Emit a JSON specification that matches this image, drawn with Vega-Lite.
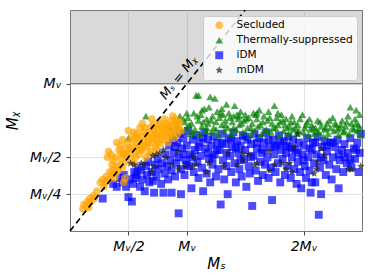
{
  "$schema": "https://vega.github.io/schema/vega-lite/v6.json",
  "width": 292,
  "height": 221,
  "autosize": {"type": "none"},
  "padding": {"left": 70, "top": 10, "right": 11, "bottom": 49},
  "background": "white",
  "config": {
    "font": "DejaVu Sans",
    "view": {"stroke": "#777", "strokeWidth": 1},
    "axis": {"grid": true, "gridColor": "#e3e3e3", "domain": false, "tickColor": "#444", "tickSize": 4, "labelFontSize": 14, "labelFont": "DejaVu Sans", "labelFontStyle": "italic", "labelColor": "#000", "titleFontSize": 15, "titleFont": "DejaVu Sans", "titleFontWeight": "normal", "titleFontStyle": "italic", "titleColor": "#000"},
    "legend": {"orient": "none", "legendX": 133, "legendY": 6, "fillColor": "rgba(255,255,255,0.8)", "strokeColor": "#cccccc", "cornerRadius": 3, "padding": 4, "symbolOffset": 7, "labelFontSize": 10.5, "labelFont": "DejaVu Sans", "labelColor": "#000", "rowPadding": 4, "labelOffset": 12, "symbolStrokeWidth": 0}
  },
  "datasets": {
    "pts": [
      {"type":"iDM","ms":0.28,"mchi":0.22},{"type":"iDM","ms":0.37,"mchi":0.32},{"type":"iDM","ms":0.4,"mchi":0.3},{"type":"iDM","ms":0.43,"mchi":0.36},{"type":"iDM","ms":0.45,"mchi":0.33},{"type":"iDM","ms":0.46,"mchi":0.38},{"type":"iDM","ms":0.48,"mchi":0.3},{"type":"iDM","ms":0.5,"mchi":0.23},{"type":"iDM","ms":0.51,"mchi":0.35},{"type":"iDM","ms":0.53,"mchi":0.2},{"type":"iDM","ms":0.54,"mchi":0.32},{"type":"iDM","ms":0.55,"mchi":0.4},{"type":"iDM","ms":0.56,"mchi":0.36},{"type":"iDM","ms":0.57,"mchi":0.38},{"type":"iDM","ms":0.58,"mchi":0.43},{"type":"iDM","ms":0.6,"mchi":0.3},{"type":"iDM","ms":0.61,"mchi":0.41},{"type":"iDM","ms":0.62,"mchi":0.35},{"type":"iDM","ms":0.64,"mchi":0.27},{"type":"iDM","ms":0.65,"mchi":0.44},{"type":"iDM","ms":0.66,"mchi":0.38},{"type":"iDM","ms":0.67,"mchi":0.47},{"type":"iDM","ms":0.68,"mchi":0.33},{"type":"iDM","ms":0.7,"mchi":0.4},{"type":"iDM","ms":0.71,"mchi":0.34},{"type":"iDM","ms":0.72,"mchi":0.26},{"type":"iDM","ms":0.73,"mchi":0.45},{"type":"iDM","ms":0.74,"mchi":0.37},{"type":"iDM","ms":0.75,"mchi":0.49},{"type":"iDM","ms":0.76,"mchi":0.42},{"type":"iDM","ms":0.78,"mchi":0.32},{"type":"iDM","ms":0.79,"mchi":0.46},{"type":"iDM","ms":0.8,"mchi":0.26},{"type":"iDM","ms":0.81,"mchi":0.39},{"type":"iDM","ms":0.82,"mchi":0.52},{"type":"iDM","ms":0.83,"mchi":0.44},{"type":"iDM","ms":0.84,"mchi":0.35},{"type":"iDM","ms":0.85,"mchi":0.58},{"type":"iDM","ms":0.86,"mchi":0.48},{"type":"iDM","ms":0.87,"mchi":0.26},{"type":"iDM","ms":0.87,"mchi":0.41},{"type":"iDM","ms":0.88,"mchi":0.62},{"type":"iDM","ms":0.89,"mchi":0.53},{"type":"iDM","ms":0.9,"mchi":0.37},{"type":"iDM","ms":0.91,"mchi":0.46},{"type":"iDM","ms":0.92,"mchi":0.6},{"type":"iDM","ms":0.93,"mchi":0.12},{"type":"iDM","ms":0.93,"mchi":0.5},{"type":"iDM","ms":0.94,"mchi":0.66},{"type":"iDM","ms":0.95,"mchi":0.25},{"type":"iDM","ms":0.95,"mchi":0.42},{"type":"iDM","ms":0.96,"mchi":0.56},{"type":"iDM","ms":0.97,"mchi":0.63},{"type":"iDM","ms":0.98,"mchi":0.38},{"type":"iDM","ms":0.99,"mchi":0.48},{"type":"iDM","ms":1.0,"mchi":0.58},{"type":"iDM","ms":1.01,"mchi":0.68},{"type":"iDM","ms":1.02,"mchi":0.44},{"type":"iDM","ms":1.03,"mchi":0.52},{"type":"iDM","ms":1.04,"mchi":0.29},{"type":"iDM","ms":1.05,"mchi":0.62},{"type":"iDM","ms":1.06,"mchi":0.4},{"type":"iDM","ms":1.07,"mchi":0.55},{"type":"iDM","ms":1.08,"mchi":0.65},{"type":"iDM","ms":1.09,"mchi":0.47},{"type":"iDM","ms":1.1,"mchi":0.36},{"type":"iDM","ms":1.11,"mchi":0.6},{"type":"iDM","ms":1.12,"mchi":0.51},{"type":"iDM","ms":1.13,"mchi":0.43},{"type":"iDM","ms":1.14,"mchi":0.27},{"type":"iDM","ms":1.15,"mchi":0.67},{"type":"iDM","ms":1.16,"mchi":0.56},{"type":"iDM","ms":1.17,"mchi":0.39},{"type":"iDM","ms":1.18,"mchi":0.62},{"type":"iDM","ms":1.19,"mchi":0.49},{"type":"iDM","ms":1.2,"mchi":0.33},{"type":"iDM","ms":1.21,"mchi":0.58},{"type":"iDM","ms":1.22,"mchi":0.45},{"type":"iDM","ms":1.23,"mchi":0.64},{"type":"iDM","ms":1.24,"mchi":0.52},{"type":"iDM","ms":1.25,"mchi":0.37},{"type":"iDM","ms":1.26,"mchi":0.6},{"type":"iDM","ms":1.27,"mchi":0.42},{"type":"iDM","ms":1.28,"mchi":0.55},{"type":"iDM","ms":1.29,"mchi":0.18},{"type":"iDM","ms":1.3,"mchi":0.66},{"type":"iDM","ms":1.31,"mchi":0.48},{"type":"iDM","ms":1.32,"mchi":0.35},{"type":"iDM","ms":1.33,"mchi":0.59},{"type":"iDM","ms":1.34,"mchi":0.44},{"type":"iDM","ms":1.35,"mchi":0.25},{"type":"iDM","ms":1.36,"mchi":0.63},{"type":"iDM","ms":1.37,"mchi":0.51},{"type":"iDM","ms":1.38,"mchi":0.4},{"type":"iDM","ms":1.39,"mchi":0.57},{"type":"iDM","ms":1.4,"mchi":0.67},{"type":"iDM","ms":1.41,"mchi":0.46},{"type":"iDM","ms":1.42,"mchi":0.33},{"type":"iDM","ms":1.43,"mchi":0.61},{"type":"iDM","ms":1.44,"mchi":0.53},{"type":"iDM","ms":1.45,"mchi":0.42},{"type":"iDM","ms":1.46,"mchi":0.58},{"type":"iDM","ms":1.47,"mchi":0.37},{"type":"iDM","ms":1.48,"mchi":0.65},{"type":"iDM","ms":1.49,"mchi":0.49},{"type":"iDM","ms":1.5,"mchi":0.55},{"type":"iDM","ms":1.51,"mchi":0.3},{"type":"iDM","ms":1.52,"mchi":0.62},{"type":"iDM","ms":1.53,"mchi":0.44},{"type":"iDM","ms":1.54,"mchi":0.39},{"type":"iDM","ms":1.55,"mchi":0.59},{"type":"iDM","ms":1.56,"mchi":0.17},{"type":"iDM","ms":1.57,"mchi":0.51},{"type":"iDM","ms":1.58,"mchi":0.66},{"type":"iDM","ms":1.59,"mchi":0.41},{"type":"iDM","ms":1.6,"mchi":0.56},{"type":"iDM","ms":1.61,"mchi":0.34},{"type":"iDM","ms":1.62,"mchi":0.63},{"type":"iDM","ms":1.63,"mchi":0.47},{"type":"iDM","ms":1.64,"mchi":0.53},{"type":"iDM","ms":1.65,"mchi":0.38},{"type":"iDM","ms":1.66,"mchi":0.6},{"type":"iDM","ms":1.67,"mchi":0.45},{"type":"iDM","ms":1.68,"mchi":0.67},{"type":"iDM","ms":1.69,"mchi":0.5},{"type":"iDM","ms":1.7,"mchi":0.36},{"type":"iDM","ms":1.71,"mchi":0.57},{"type":"iDM","ms":1.72,"mchi":0.43},{"type":"iDM","ms":1.73,"mchi":0.21},{"type":"iDM","ms":1.74,"mchi":0.62},{"type":"iDM","ms":1.75,"mchi":0.52},{"type":"iDM","ms":1.76,"mchi":0.4},{"type":"iDM","ms":1.77,"mchi":0.58},{"type":"iDM","ms":1.78,"mchi":0.46},{"type":"iDM","ms":1.79,"mchi":0.65},{"type":"iDM","ms":1.8,"mchi":0.33},{"type":"iDM","ms":1.81,"mchi":0.55},{"type":"iDM","ms":1.82,"mchi":0.49},{"type":"iDM","ms":1.83,"mchi":0.61},{"type":"iDM","ms":1.84,"mchi":0.38},{"type":"iDM","ms":1.85,"mchi":0.53},{"type":"iDM","ms":1.86,"mchi":0.44},{"type":"iDM","ms":1.87,"mchi":0.64},{"type":"iDM","ms":1.88,"mchi":0.57},{"type":"iDM","ms":1.89,"mchi":0.36},{"type":"iDM","ms":1.9,"mchi":0.5},{"type":"iDM","ms":1.91,"mchi":0.62},{"type":"iDM","ms":1.92,"mchi":0.42},{"type":"iDM","ms":1.93,"mchi":0.55},{"type":"iDM","ms":1.94,"mchi":0.32},{"type":"iDM","ms":1.95,"mchi":0.47},{"type":"iDM","ms":1.96,"mchi":0.6},{"type":"iDM","ms":1.97,"mchi":0.4},{"type":"iDM","ms":1.98,"mchi":0.29},{"type":"iDM","ms":1.99,"mchi":0.52},{"type":"iDM","ms":2.0,"mchi":0.58},{"type":"iDM","ms":2.01,"mchi":0.44},{"type":"iDM","ms":2.02,"mchi":0.36},{"type":"iDM","ms":2.03,"mchi":0.63},{"type":"iDM","ms":2.04,"mchi":0.5},{"type":"iDM","ms":2.05,"mchi":0.41},{"type":"iDM","ms":2.06,"mchi":0.26},{"type":"iDM","ms":2.07,"mchi":0.55},{"type":"iDM","ms":2.07,"mchi":0.33},{"type":"iDM","ms":2.08,"mchi":0.6},{"type":"iDM","ms":2.09,"mchi":0.46},{"type":"iDM","ms":2.1,"mchi":0.33},{"type":"iDM","ms":2.11,"mchi":0.52},{"type":"iDM","ms":2.12,"mchi":0.64},{"type":"iDM","ms":2.13,"mchi":0.11},{"type":"iDM","ms":2.14,"mchi":0.43},{"type":"iDM","ms":2.15,"mchi":0.25},{"type":"iDM","ms":2.16,"mchi":0.57},{"type":"iDM","ms":2.17,"mchi":0.48},{"type":"iDM","ms":2.18,"mchi":0.61},{"type":"iDM","ms":2.19,"mchi":0.38},{"type":"iDM","ms":2.2,"mchi":0.54},{"type":"iDM","ms":2.22,"mchi":0.45},{"type":"iDM","ms":2.23,"mchi":0.6},{"type":"iDM","ms":2.24,"mchi":0.35},{"type":"iDM","ms":2.25,"mchi":0.5},{"type":"iDM","ms":2.27,"mchi":0.57},{"type":"iDM","ms":2.28,"mchi":0.42},{"type":"iDM","ms":2.29,"mchi":0.62},{"type":"iDM","ms":2.3,"mchi":0.29},{"type":"iDM","ms":2.31,"mchi":0.48},{"type":"iDM","ms":2.33,"mchi":0.55},{"type":"iDM","ms":2.34,"mchi":0.4},{"type":"iDM","ms":2.35,"mchi":0.59},{"type":"iDM","ms":2.37,"mchi":0.46},{"type":"iDM","ms":2.38,"mchi":0.53},{"type":"iDM","ms":2.4,"mchi":0.63},{"type":"iDM","ms":2.41,"mchi":0.43},{"type":"iDM","ms":2.43,"mchi":0.56},{"type":"iDM","ms":2.44,"mchi":0.49},{"type":"iDM","ms":2.46,"mchi":0.6},{"type":"iDM","ms":2.47,"mchi":0.4},{"type":"iDM","ms":2.48,"mchi":0.53},{"type":"iDM","ms":2.49,"mchi":0.66},{"type":"iDM","ms":0.9,"mchi":0.57},{"type":"iDM","ms":0.97,"mchi":0.52},{"type":"iDM","ms":1.0,"mchi":0.45},{"type":"iDM","ms":1.05,"mchi":0.5},{"type":"iDM","ms":1.1,"mchi":0.57},{"type":"iDM","ms":1.14,"mchi":0.63},{"type":"iDM","ms":1.18,"mchi":0.53},{"type":"iDM","ms":1.22,"mchi":0.5},{"type":"iDM","ms":1.26,"mchi":0.55},{"type":"iDM","ms":1.3,"mchi":0.6},{"type":"iDM","ms":1.34,"mchi":0.53},{"type":"iDM","ms":1.38,"mchi":0.62},{"type":"iDM","ms":1.42,"mchi":0.56},{"type":"iDM","ms":1.46,"mchi":0.48},{"type":"iDM","ms":1.5,"mchi":0.64},{"type":"iDM","ms":1.55,"mchi":0.5},{"type":"iDM","ms":1.6,"mchi":0.6},{"type":"iDM","ms":1.65,"mchi":0.55},{"type":"iDM","ms":1.7,"mchi":0.62},{"type":"iDM","ms":1.75,"mchi":0.57},{"type":"iDM","ms":1.8,"mchi":0.6},{"type":"iDM","ms":1.85,"mchi":0.58},{"type":"iDM","ms":1.9,"mchi":0.56},{"type":"iDM","ms":1.95,"mchi":0.53},{"type":"iDM","ms":2.0,"mchi":0.48},{"type":"iDM","ms":2.05,"mchi":0.56},{"type":"iDM","ms":2.1,"mchi":0.6},{"type":"iDM","ms":2.15,"mchi":0.5},{"type":"iDM","ms":2.2,"mchi":0.58},{"type":"iDM","ms":2.25,"mchi":0.6},{"type":"iDM","ms":2.3,"mchi":0.52},{"type":"iDM","ms":2.35,"mchi":0.5},{"type":"iDM","ms":2.4,"mchi":0.48},{"type":"iDM","ms":2.45,"mchi":0.55},
      {"type":"Thermally-suppressed","ms":0.5,"mchi":0.63},{"type":"Thermally-suppressed","ms":0.65,"mchi":0.78},{"type":"Thermally-suppressed","ms":0.86,"mchi":0.7},{"type":"Thermally-suppressed","ms":0.88,"mchi":0.66},{"type":"Thermally-suppressed","ms":0.9,"mchi":0.75},{"type":"Thermally-suppressed","ms":0.92,"mchi":0.72},{"type":"Thermally-suppressed","ms":0.94,"mchi":0.78},{"type":"Thermally-suppressed","ms":0.96,"mchi":0.68},{"type":"Thermally-suppressed","ms":0.98,"mchi":0.74},{"type":"Thermally-suppressed","ms":1.0,"mchi":0.7},{"type":"Thermally-suppressed","ms":1.01,"mchi":0.77},{"type":"Thermally-suppressed","ms":1.03,"mchi":0.66},{"type":"Thermally-suppressed","ms":1.04,"mchi":0.73},{"type":"Thermally-suppressed","ms":1.06,"mchi":0.8},{"type":"Thermally-suppressed","ms":1.07,"mchi":0.69},{"type":"Thermally-suppressed","ms":1.08,"mchi":0.92},{"type":"Thermally-suppressed","ms":1.1,"mchi":0.92},{"type":"Thermally-suppressed","ms":1.1,"mchi":0.75},{"type":"Thermally-suppressed","ms":1.11,"mchi":0.66},{"type":"Thermally-suppressed","ms":1.12,"mchi":0.79},{"type":"Thermally-suppressed","ms":1.13,"mchi":0.71},{"type":"Thermally-suppressed","ms":1.15,"mchi":0.83},{"type":"Thermally-suppressed","ms":1.16,"mchi":0.68},{"type":"Thermally-suppressed","ms":1.17,"mchi":0.76},{"type":"Thermally-suppressed","ms":1.18,"mchi":0.73},{"type":"Thermally-suppressed","ms":1.19,"mchi":0.84},{"type":"Thermally-suppressed","ms":1.2,"mchi":0.91},{"type":"Thermally-suppressed","ms":1.21,"mchi":0.67},{"type":"Thermally-suppressed","ms":1.22,"mchi":0.78},{"type":"Thermally-suppressed","ms":1.23,"mchi":0.7},{"type":"Thermally-suppressed","ms":1.24,"mchi":0.9},{"type":"Thermally-suppressed","ms":1.25,"mchi":0.74},{"type":"Thermally-suppressed","ms":1.26,"mchi":0.81},{"type":"Thermally-suppressed","ms":1.27,"mchi":0.65},{"type":"Thermally-suppressed","ms":1.28,"mchi":0.77},{"type":"Thermally-suppressed","ms":1.3,"mchi":0.72},{"type":"Thermally-suppressed","ms":1.31,"mchi":0.79},{"type":"Thermally-suppressed","ms":1.32,"mchi":0.68},{"type":"Thermally-suppressed","ms":1.33,"mchi":0.75},{"type":"Thermally-suppressed","ms":1.34,"mchi":0.86},{"type":"Thermally-suppressed","ms":1.35,"mchi":0.7},{"type":"Thermally-suppressed","ms":1.36,"mchi":0.8},{"type":"Thermally-suppressed","ms":1.38,"mchi":0.66},{"type":"Thermally-suppressed","ms":1.39,"mchi":0.74},{"type":"Thermally-suppressed","ms":1.4,"mchi":0.78},{"type":"Thermally-suppressed","ms":1.41,"mchi":0.85},{"type":"Thermally-suppressed","ms":1.42,"mchi":0.69},{"type":"Thermally-suppressed","ms":1.44,"mchi":0.76},{"type":"Thermally-suppressed","ms":1.45,"mchi":0.72},{"type":"Thermally-suppressed","ms":1.46,"mchi":0.81},{"type":"Thermally-suppressed","ms":1.48,"mchi":0.67},{"type":"Thermally-suppressed","ms":1.49,"mchi":0.75},{"type":"Thermally-suppressed","ms":1.5,"mchi":0.79},{"type":"Thermally-suppressed","ms":1.52,"mchi":0.7},{"type":"Thermally-suppressed","ms":1.53,"mchi":0.77},{"type":"Thermally-suppressed","ms":1.54,"mchi":0.65},{"type":"Thermally-suppressed","ms":1.56,"mchi":0.73},{"type":"Thermally-suppressed","ms":1.57,"mchi":0.8},{"type":"Thermally-suppressed","ms":1.58,"mchi":0.68},{"type":"Thermally-suppressed","ms":1.6,"mchi":0.76},{"type":"Thermally-suppressed","ms":1.61,"mchi":0.71},{"type":"Thermally-suppressed","ms":1.62,"mchi":0.82},{"type":"Thermally-suppressed","ms":1.64,"mchi":0.66},{"type":"Thermally-suppressed","ms":1.65,"mchi":0.74},{"type":"Thermally-suppressed","ms":1.66,"mchi":0.78},{"type":"Thermally-suppressed","ms":1.68,"mchi":0.69},{"type":"Thermally-suppressed","ms":1.69,"mchi":0.75},{"type":"Thermally-suppressed","ms":1.7,"mchi":0.81},{"type":"Thermally-suppressed","ms":1.72,"mchi":0.67},{"type":"Thermally-suppressed","ms":1.73,"mchi":0.73},{"type":"Thermally-suppressed","ms":1.75,"mchi":0.85},{"type":"Thermally-suppressed","ms":1.76,"mchi":0.7},{"type":"Thermally-suppressed","ms":1.77,"mchi":0.77},{"type":"Thermally-suppressed","ms":1.79,"mchi":0.65},{"type":"Thermally-suppressed","ms":1.8,"mchi":0.74},{"type":"Thermally-suppressed","ms":1.81,"mchi":0.79},{"type":"Thermally-suppressed","ms":1.83,"mchi":0.68},{"type":"Thermally-suppressed","ms":1.84,"mchi":0.72},{"type":"Thermally-suppressed","ms":1.85,"mchi":0.76},{"type":"Thermally-suppressed","ms":1.87,"mchi":0.66},{"type":"Thermally-suppressed","ms":1.88,"mchi":0.71},{"type":"Thermally-suppressed","ms":1.9,"mchi":0.78},{"type":"Thermally-suppressed","ms":1.91,"mchi":0.69},{"type":"Thermally-suppressed","ms":1.92,"mchi":0.74},{"type":"Thermally-suppressed","ms":1.94,"mchi":0.66},{"type":"Thermally-suppressed","ms":1.95,"mchi":0.72},{"type":"Thermally-suppressed","ms":1.97,"mchi":0.76},{"type":"Thermally-suppressed","ms":1.99,"mchi":0.79},{"type":"Thermally-suppressed","ms":2.0,"mchi":0.67},{"type":"Thermally-suppressed","ms":2.01,"mchi":0.7},{"type":"Thermally-suppressed","ms":2.03,"mchi":0.74},{"type":"Thermally-suppressed","ms":2.04,"mchi":0.65},{"type":"Thermally-suppressed","ms":2.06,"mchi":0.69},{"type":"Thermally-suppressed","ms":2.07,"mchi":0.72},{"type":"Thermally-suppressed","ms":2.09,"mchi":0.66},{"type":"Thermally-suppressed","ms":2.1,"mchi":0.7},{"type":"Thermally-suppressed","ms":2.12,"mchi":0.75},{"type":"Thermally-suppressed","ms":2.13,"mchi":0.67},{"type":"Thermally-suppressed","ms":2.15,"mchi":0.71},{"type":"Thermally-suppressed","ms":2.17,"mchi":0.64},{"type":"Thermally-suppressed","ms":2.18,"mchi":0.69},{"type":"Thermally-suppressed","ms":2.2,"mchi":0.73},{"type":"Thermally-suppressed","ms":2.21,"mchi":0.66},{"type":"Thermally-suppressed","ms":2.23,"mchi":0.7},{"type":"Thermally-suppressed","ms":2.25,"mchi":0.77},{"type":"Thermally-suppressed","ms":2.26,"mchi":0.68},{"type":"Thermally-suppressed","ms":2.28,"mchi":0.72},{"type":"Thermally-suppressed","ms":2.3,"mchi":0.65},{"type":"Thermally-suppressed","ms":2.31,"mchi":0.7},{"type":"Thermally-suppressed","ms":2.33,"mchi":0.75},{"type":"Thermally-suppressed","ms":2.34,"mchi":0.67},{"type":"Thermally-suppressed","ms":2.36,"mchi":0.71},{"type":"Thermally-suppressed","ms":2.38,"mchi":0.78},{"type":"Thermally-suppressed","ms":2.39,"mchi":0.66},{"type":"Thermally-suppressed","ms":2.4,"mchi":0.84},{"type":"Thermally-suppressed","ms":2.41,"mchi":0.73},{"type":"Thermally-suppressed","ms":2.43,"mchi":0.69},{"type":"Thermally-suppressed","ms":2.44,"mchi":0.76},{"type":"Thermally-suppressed","ms":2.46,"mchi":0.68},{"type":"Thermally-suppressed","ms":2.47,"mchi":0.72},{"type":"Thermally-suppressed","ms":2.48,"mchi":0.79},{"type":"Thermally-suppressed","ms":2.49,"mchi":0.65},
      {"type":"Thermally-suppressed","ms":0.92,"mchi":0.69},{"type":"Thermally-suppressed","ms":0.97,"mchi":0.76},{"type":"Thermally-suppressed","ms":1.02,"mchi":0.72},{"type":"Thermally-suppressed","ms":1.05,"mchi":0.67},{"type":"Thermally-suppressed","ms":1.09,"mchi":0.78},{"type":"Thermally-suppressed","ms":1.14,"mchi":0.74},{"type":"Thermally-suppressed","ms":1.17,"mchi":0.7},{"type":"Thermally-suppressed","ms":1.21,"mchi":0.75},{"type":"Thermally-suppressed","ms":1.25,"mchi":0.69},{"type":"Thermally-suppressed","ms":1.29,"mchi":0.8},{"type":"Thermally-suppressed","ms":1.33,"mchi":0.72},{"type":"Thermally-suppressed","ms":1.37,"mchi":0.77},{"type":"Thermally-suppressed","ms":1.4,"mchi":0.7},{"type":"Thermally-suppressed","ms":1.43,"mchi":0.79},{"type":"Thermally-suppressed","ms":1.47,"mchi":0.73},{"type":"Thermally-suppressed","ms":1.51,"mchi":0.76},{"type":"Thermally-suppressed","ms":1.55,"mchi":0.7},{"type":"Thermally-suppressed","ms":1.59,"mchi":0.79},{"type":"Thermally-suppressed","ms":1.63,"mchi":0.72},{"type":"Thermally-suppressed","ms":1.67,"mchi":0.68},{"type":"Thermally-suppressed","ms":1.71,"mchi":0.77},{"type":"Thermally-suppressed","ms":1.74,"mchi":0.7},{"type":"Thermally-suppressed","ms":1.78,"mchi":0.72},{"type":"Thermally-suppressed","ms":1.82,"mchi":0.75},{"type":"Thermally-suppressed","ms":1.86,"mchi":0.7},{"type":"Thermally-suppressed","ms":1.89,"mchi":0.74},{"type":"Thermally-suppressed","ms":1.93,"mchi":0.7},{"type":"Thermally-suppressed","ms":1.96,"mchi":0.68},{"type":"Thermally-suppressed","ms":2.02,"mchi":0.72},{"type":"Thermally-suppressed","ms":2.05,"mchi":0.76},{"type":"Thermally-suppressed","ms":2.08,"mchi":0.7},{"type":"Thermally-suppressed","ms":2.11,"mchi":0.68},{"type":"Thermally-suppressed","ms":2.14,"mchi":0.74},{"type":"Thermally-suppressed","ms":2.19,"mchi":0.7},{"type":"Thermally-suppressed","ms":2.22,"mchi":0.75},{"type":"Thermally-suppressed","ms":2.27,"mchi":0.73},{"type":"Thermally-suppressed","ms":2.29,"mchi":0.69},{"type":"Thermally-suppressed","ms":2.32,"mchi":0.72},{"type":"Thermally-suppressed","ms":2.35,"mchi":0.68},{"type":"Thermally-suppressed","ms":2.37,"mchi":0.74},{"type":"Thermally-suppressed","ms":2.42,"mchi":0.7},{"type":"Thermally-suppressed","ms":2.45,"mchi":0.73},{"type":"Thermally-suppressed","ms":2.48,"mchi":0.7},{"type":"Thermally-suppressed","ms":1.0,"mchi":0.8},{"type":"Thermally-suppressed","ms":1.13,"mchi":0.82},{"type":"Thermally-suppressed","ms":1.3,"mchi":0.83},{"type":"Thermally-suppressed","ms":1.45,"mchi":0.78},{"type":"Thermally-suppressed","ms":1.6,"mchi":0.8},{"type":"Thermally-suppressed","ms":1.78,"mchi":0.8},{"type":"Thermally-suppressed","ms":2.45,"mchi":0.82},
      {"type":"Secluded","ms":0.11,"mchi":0.15},{"type":"Secluded","ms":0.12,"mchi":0.18},{"type":"Secluded","ms":0.14,"mchi":0.17},{"type":"Secluded","ms":0.15,"mchi":0.2},{"type":"Secluded","ms":0.17,"mchi":0.22},{"type":"Secluded","ms":0.18,"mchi":0.2},{"type":"Secluded","ms":0.2,"mchi":0.24},{"type":"Secluded","ms":0.21,"mchi":0.22},{"type":"Secluded","ms":0.26,"mchi":0.33},{"type":"Secluded","ms":0.28,"mchi":0.35},{"type":"Secluded","ms":0.3,"mchi":0.33},{"type":"Secluded","ms":0.31,"mchi":0.37},{"type":"Secluded","ms":0.33,"mchi":0.35},{"type":"Secluded","ms":0.34,"mchi":0.4},{"type":"Secluded","ms":0.36,"mchi":0.38},{"type":"Secluded","ms":0.37,"mchi":0.42},{"type":"Secluded","ms":0.38,"mchi":0.36},{"type":"Secluded","ms":0.4,"mchi":0.44},{"type":"Secluded","ms":0.41,"mchi":0.41},{"type":"Secluded","ms":0.43,"mchi":0.45},{"type":"Secluded","ms":0.45,"mchi":0.43},{"type":"Secluded","ms":0.46,"mchi":0.33},{"type":"Secluded","ms":0.47,"mchi":0.36},{"type":"Secluded","ms":0.32,"mchi":0.5},{"type":"Secluded","ms":0.33,"mchi":0.54},{"type":"Secluded","ms":0.35,"mchi":0.52},{"type":"Secluded","ms":0.37,"mchi":0.48},{"type":"Secluded","ms":0.39,"mchi":0.5},{"type":"Secluded","ms":0.4,"mchi":0.6},{"type":"Secluded","ms":0.42,"mchi":0.55},{"type":"Secluded","ms":0.43,"mchi":0.58},{"type":"Secluded","ms":0.44,"mchi":0.49},{"type":"Secluded","ms":0.46,"mchi":0.52},{"type":"Secluded","ms":0.47,"mchi":0.56},{"type":"Secluded","ms":0.48,"mchi":0.47},{"type":"Secluded","ms":0.49,"mchi":0.6},{"type":"Secluded","ms":0.5,"mchi":0.53},{"type":"Secluded","ms":0.5,"mchi":0.68},{"type":"Secluded","ms":0.52,"mchi":0.5},{"type":"Secluded","ms":0.53,"mchi":0.57},{"type":"Secluded","ms":0.54,"mchi":0.62},{"type":"Secluded","ms":0.55,"mchi":0.46},{"type":"Secluded","ms":0.56,"mchi":0.54},{"type":"Secluded","ms":0.57,"mchi":0.6},{"type":"Secluded","ms":0.57,"mchi":0.66},{"type":"Secluded","ms":0.59,"mchi":0.52},{"type":"Secluded","ms":0.6,"mchi":0.58},{"type":"Secluded","ms":0.61,"mchi":0.64},{"type":"Secluded","ms":0.62,"mchi":0.55},{"type":"Secluded","ms":0.63,"mchi":0.61},{"type":"Secluded","ms":0.64,"mchi":0.7},{"type":"Secluded","ms":0.65,"mchi":0.5},{"type":"Secluded","ms":0.66,"mchi":0.57},{"type":"Secluded","ms":0.67,"mchi":0.63},{"type":"Secluded","ms":0.68,"mchi":0.67},{"type":"Secluded","ms":0.69,"mchi":0.54},{"type":"Secluded","ms":0.7,"mchi":0.6},{"type":"Secluded","ms":0.71,"mchi":0.72},{"type":"Secluded","ms":0.72,"mchi":0.65},{"type":"Secluded","ms":0.73,"mchi":0.57},{"type":"Secluded","ms":0.74,"mchi":0.62},{"type":"Secluded","ms":0.75,"mchi":0.69},{"type":"Secluded","ms":0.76,"mchi":0.74},{"type":"Secluded","ms":0.77,"mchi":0.59},{"type":"Secluded","ms":0.78,"mchi":0.65},{"type":"Secluded","ms":0.79,"mchi":0.7},{"type":"Secluded","ms":0.8,"mchi":0.62},{"type":"Secluded","ms":0.81,"mchi":0.76},{"type":"Secluded","ms":0.82,"mchi":0.67},{"type":"Secluded","ms":0.83,"mchi":0.72},{"type":"Secluded","ms":0.84,"mchi":0.6},{"type":"Secluded","ms":0.85,"mchi":0.65},{"type":"Secluded","ms":0.86,"mchi":0.7},{"type":"Secluded","ms":0.87,"mchi":0.75},{"type":"Secluded","ms":0.88,"mchi":0.78},{"type":"Secluded","ms":0.89,"mchi":0.63},{"type":"Secluded","ms":0.9,"mchi":0.68},{"type":"Secluded","ms":0.91,"mchi":0.72},{"type":"Secluded","ms":0.92,"mchi":0.66},{"type":"Secluded","ms":0.93,"mchi":0.7},{"type":"Secluded","ms":0.94,"mchi":0.74},{"type":"Secluded","ms":0.95,"mchi":0.68},{"type":"Secluded","ms":0.6,"mchi":0.7},{"type":"Secluded","ms":0.55,"mchi":0.67},{"type":"Secluded","ms":0.53,"mchi":0.64},{"type":"Secluded","ms":0.45,"mchi":0.62},{"type":"Secluded","ms":0.62,"mchi":0.73},{"type":"Secluded","ms":0.7,"mchi":0.76},
      {"type":"Secluded","ms":0.58,"mchi":0.63},{"type":"Secluded","ms":0.63,"mchi":0.67},{"type":"Secluded","ms":0.66,"mchi":0.65},{"type":"Secluded","ms":0.69,"mchi":0.7},{"type":"Secluded","ms":0.72,"mchi":0.69},{"type":"Secluded","ms":0.74,"mchi":0.66},{"type":"Secluded","ms":0.77,"mchi":0.72},{"type":"Secluded","ms":0.8,"mchi":0.68},{"type":"Secluded","ms":0.82,"mchi":0.73},{"type":"Secluded","ms":0.84,"mchi":0.7},{"type":"Secluded","ms":0.86,"mchi":0.66},{"type":"Secluded","ms":0.88,"mchi":0.72},{"type":"Secluded","ms":0.9,"mchi":0.76},{"type":"Secluded","ms":0.92,"mchi":0.74},{"type":"Secluded","ms":0.67,"mchi":0.6},{"type":"Secluded","ms":0.71,"mchi":0.63},{"type":"Secluded","ms":0.75,"mchi":0.6},{"type":"Secluded","ms":0.79,"mchi":0.64},{"type":"Secluded","ms":0.83,"mchi":0.64},{"type":"Secluded","ms":0.6,"mchi":0.55},{"type":"Secluded","ms":0.64,"mchi":0.58},{"type":"Secluded","ms":0.68,"mchi":0.52},{"type":"Secluded","ms":0.51,"mchi":0.56},{"type":"Secluded","ms":0.48,"mchi":0.52},{"type":"Secluded","ms":0.44,"mchi":0.53},{"type":"Secluded","ms":0.36,"mchi":0.45},{"type":"Secluded","ms":0.39,"mchi":0.39},{"type":"Secluded","ms":0.29,"mchi":0.3},{"type":"Secluded","ms":0.23,"mchi":0.27},{"type":"Secluded","ms":0.16,"mchi":0.16},{"type":"Secluded","ms":0.56,"mchi":0.5},{"type":"Secluded","ms":0.58,"mchi":0.57},{"type":"Secluded","ms":0.74,"mchi":0.55},
      {"type":"mDM","ms":0.52,"mchi":0.46},{"type":"mDM","ms":0.55,"mchi":0.45},{"type":"mDM","ms":0.61,"mchi":0.46},{"type":"mDM","ms":0.63,"mchi":0.45},{"type":"mDM","ms":0.7,"mchi":0.4},{"type":"mDM","ms":0.72,"mchi":0.44},{"type":"mDM","ms":0.71,"mchi":0.51},{"type":"mDM","ms":0.74,"mchi":0.52},{"type":"mDM","ms":0.77,"mchi":0.53},{"type":"mDM","ms":0.8,"mchi":0.55},{"type":"mDM","ms":0.82,"mchi":0.5},{"type":"mDM","ms":0.87,"mchi":0.45},{"type":"mDM","ms":0.92,"mchi":0.54},{"type":"mDM","ms":0.93,"mchi":0.42},{"type":"mDM","ms":0.99,"mchi":0.44},{"type":"mDM","ms":1.05,"mchi":0.44},{"type":"mDM","ms":1.06,"mchi":0.5},{"type":"mDM","ms":1.08,"mchi":0.45},{"type":"mDM","ms":1.17,"mchi":0.4},{"type":"mDM","ms":1.19,"mchi":0.46},{"type":"mDM","ms":1.32,"mchi":0.44},{"type":"mDM","ms":1.35,"mchi":0.53},{"type":"mDM","ms":1.43,"mchi":0.45},{"type":"mDM","ms":1.48,"mchi":0.53},{"type":"mDM","ms":1.48,"mchi":0.48},{"type":"mDM","ms":1.53,"mchi":0.52},{"type":"mDM","ms":1.58,"mchi":0.45},{"type":"mDM","ms":1.6,"mchi":0.46},{"type":"mDM","ms":1.7,"mchi":0.54},{"type":"mDM","ms":1.71,"mchi":0.41},{"type":"mDM","ms":1.75,"mchi":0.45},{"type":"mDM","ms":1.81,"mchi":0.46},{"type":"mDM","ms":1.85,"mchi":0.42},{"type":"mDM","ms":1.88,"mchi":0.46},{"type":"mDM","ms":1.9,"mchi":0.4},{"type":"mDM","ms":1.92,"mchi":0.57},{"type":"mDM","ms":1.95,"mchi":0.66},{"type":"mDM","ms":2.09,"mchi":0.39},{"type":"mDM","ms":2.11,"mchi":0.42},{"type":"mDM","ms":2.12,"mchi":0.47},{"type":"mDM","ms":2.15,"mchi":0.56},{"type":"mDM","ms":2.18,"mchi":0.51},{"type":"mDM","ms":2.38,"mchi":0.42},{"type":"mDM","ms":2.41,"mchi":0.42},{"type":"mDM","ms":2.49,"mchi":0.44}
    ]
  },
  "layer": [
    {
      "data": {"values": [{}]},
      "mark": {"type": "rect", "color": "#808080", "opacity": 0.3},
      "encoding": {
        "x": {"datum": 0, "type": "quantitative", "scale": {"domain": [0, 2.5], "nice": false, "zero": false}},
        "x2": {"datum": 2.5},
        "y": {"datum": 1, "type": "quantitative", "scale": {"domain": [0, 1.5], "nice": false, "zero": false}},
        "y2": {"datum": 1.5}
      }
    },
    {
      "data": {"values": [{}]},
      "mark": {"type": "rule", "color": "#666666", "strokeWidth": 1},
      "encoding": {
        "y": {"datum": 1, "type": "quantitative"}
      }
    },
    {
      "data": {"name": "pts"},
      "mark": {"type": "point", "filled": true, "opacity": 0.7, "strokeWidth": 0},
      "encoding": {
        "x": {"field": "ms", "type": "quantitative", "scale": {"domain": [0, 2.5], "nice": false, "zero": false},
              "axis": {"title": "Mₛ", "values": [0.5, 1, 2], "labelExpr": "datum.value == 0.5 ? 'Mᵥ/2' : datum.value == 1 ? 'Mᵥ' : '2Mᵥ'", "labelPadding": 4, "titlePadding": 3}},
        "y": {"field": "mchi", "type": "quantitative", "scale": {"domain": [0, 1.5], "nice": false, "zero": false},
              "axis": {"title": "Mᵪ", "values": [0.25, 0.5, 1], "labelExpr": "datum.value == 0.25 ? 'Mᵥ/4' : datum.value == 0.5 ? 'Mᵥ/2' : 'Mᵥ'", "labelPadding": 5, "titlePadding": 9}},
        "color": {"field": "type", "type": "nominal", "title": null, "legend": {"zindex": 2},
                  "scale": {"domain": ["Secluded", "Thermally-suppressed", "iDM", "mDM"], "range": ["#FFA500", "#008000", "#0000FF", "#222222"]}},
        "shape": {"field": "type", "type": "nominal", "title": null, "legend": {"zindex": 2},
                  "scale": {"domain": ["Secluded", "Thermally-suppressed", "iDM", "mDM"], "range": ["circle", "triangle-up", "square", "M0,-1L0.27,-0.37L0.951,-0.309L0.44,0.143L0.588,0.809L0,0.46L-0.588,0.809L-0.44,0.143L-0.951,-0.309L-0.27,-0.37Z"]}},
        "size": {"field": "type", "type": "nominal", "title": null, "legend": {"zindex": 2},
                 "scale": {"domain": ["Secluded", "Thermally-suppressed", "iDM", "mDM"], "range": [56, 66, 34, 80]}}
      }
    },
    {
      "data": {"values": [{}]},
      "mark": {"type": "rule", "color": "black", "strokeWidth": 1.7, "strokeDash": [6, 4]},
      "encoding": {
        "x": {"datum": 0, "type": "quantitative"},
        "y": {"datum": 0, "type": "quantitative"},
        "x2": {"datum": 1.5},
        "y2": {"datum": 1.5}
      }
    },
    {
      "data": {"values": [{}]},
      "mark": {"type": "text", "text": "Mₛ = Mᵪ", "angle": 308.5, "fontSize": 13, "fontStyle": "italic", "font": "DejaVu Sans", "color": "black", "align": "center", "baseline": "middle"},
      "encoding": {
        "x": {"datum": 0.93, "type": "quantitative"},
        "y": {"datum": 1.04, "type": "quantitative"}
      }
    }
  ]
}
